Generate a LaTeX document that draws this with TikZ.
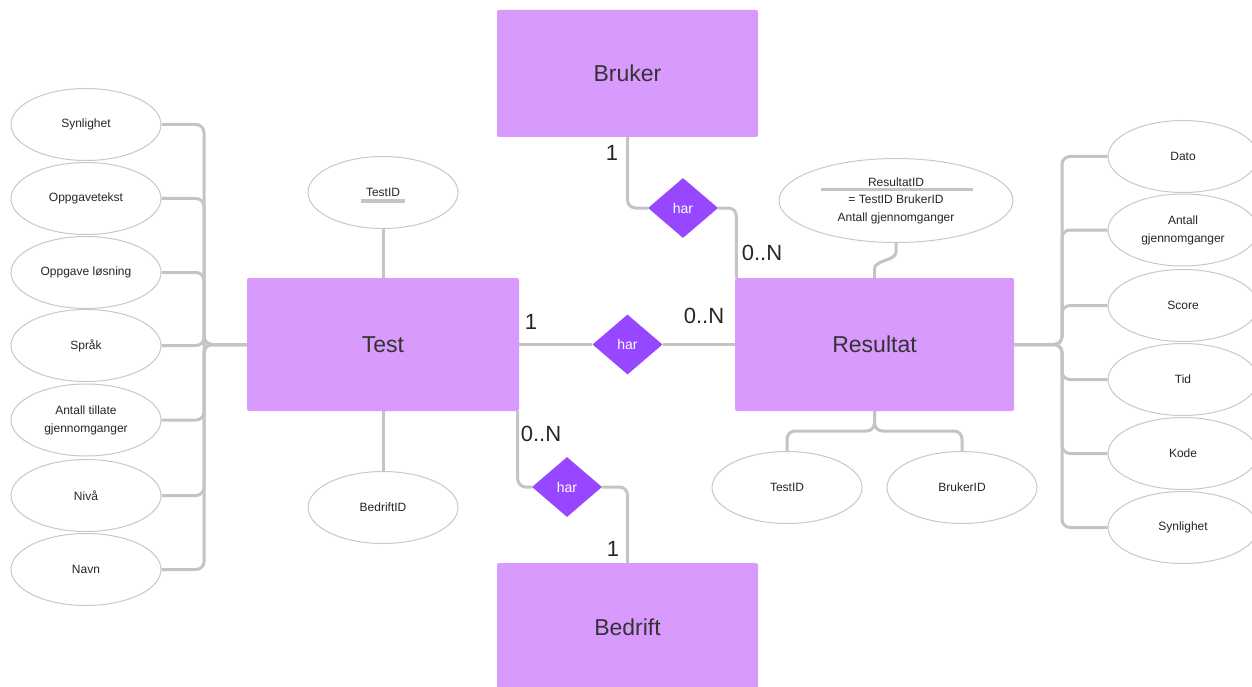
\documentclass[tikz,border=0pt]{standalone}
\usepackage{fontspec}
\setmainfont{Liberation Sans}
\usetikzlibrary{shapes.geometric,calc}
\definecolor{entfill}{RGB}{216,155,253}
\definecolor{relfill}{RGB}{151,71,255}
\definecolor{wire}{RGB}{196,196,196}
\definecolor{ring}{RGB}{200,200,200}
\definecolor{ink}{RGB}{51,51,51}
\begin{document}
\begin{tikzpicture}[x=1pt,y=-1pt,
  entity/.style={rectangle, fill=entfill, rounded corners=2pt, inner sep=0pt,
    text=ink, font=\fontsize{23}{26}\selectfont},
  rel/.style={diamond, fill=relfill, text=white, aspect=1.17, inner sep=0pt,
    minimum width=70pt, minimum height=60pt, font=\fontsize{14}{16}\selectfont},
  attr/.style={ellipse, draw=ring, line width=1pt, fill=white, inner sep=0pt,
    minimum width=150pt, minimum height=72pt, align=center, text=black!85,
    font=\fontsize{12}{18}\selectfont},
  conn/.style={draw=wire, line width=3pt, rounded corners=8pt},
  keybar/.style={draw=wire, line width=3pt},
  card/.style={inner sep=0pt, text=black!85, font=\fontsize{22}{24}\selectfont}]

\useasboundingbox (0,0) rectangle (1252,687);

% entities
\node[entity, minimum width=261pt, minimum height=127pt] (Bruker) at (627.5,73.5) {Bruker};
\node[entity, minimum width=272pt, minimum height=133pt] (Test) at (383,344.5) {Test};
\node[entity, minimum width=279pt, minimum height=133pt] (Resultat) at (874.5,344.5) {Resultat};
\node[entity, minimum width=261pt, minimum height=128pt] (Bedrift) at (627.5,627) {Bedrift};

% relationships
\node[rel] (h1) at (683,208) {har};
\node[rel] (h2) at (627.5,344.5) {har};
\node[rel] (h3) at (567,487) {har};

% attributes of Test
\node[attr] (a1) at (86,124.5) {Synlighet};
\node[attr] (a2) at (86,198.5) {Oppgavetekst};
\node[attr] (a3) at (86,272.5) {Oppgave løsning};
\node[attr] (a4) at (86,345.5) {Språk};
\node[attr] (a5) at (86,420) {Antall tillate\\gjennomganger};
\node[attr] (a6) at (86,495.5) {Nivå};
\node[attr] (a7) at (86,569.5) {Navn};
\node[attr] (tid) at (383,192.5) {TestID};
\draw[keybar] ($(tid.center)+(-22,8.5)$) -- ++(44,0);
\node[attr] (bid) at (383,507.5) {BedriftID};

% attributes of Resultat
\node[attr, minimum width=234pt, minimum height=84pt, font=\fontsize{12}{17.5}\selectfont]
  (rid) at (896,200.5) {ResultatID\\= TestID BrukerID\\Antall gjennomganger};
\draw[keybar] ($(rid.center)+(-75,-10.5)$) -- ++(152,0);
\node[attr] (rtest) at (787,487.5) {TestID};
\node[attr] (rbruk) at (962,487.5) {BrukerID};
\node[attr] (b1) at (1183,156.5) {Dato};
\node[attr] (b2) at (1183,230) {Antall\\gjennomganger};
\node[attr] (b3) at (1183,305.5) {Score};
\node[attr] (b4) at (1183,379.5) {Tid};
\node[attr] (b5) at (1183,453.5) {Kode};
\node[attr] (b6) at (1183,527.5) {Synlighet};

% attribute connectors
\coordinate (lbus) at (204,344.5);
\foreach \n in {a1,a2,a3,a4,a5,a6,a7}
  \draw[conn] (\n.east) -| (lbus) -- (Test.west);
\coordinate (rbus) at (1062,344.5);
\foreach \n in {b1,b2,b3,b4,b5,b6}
  \draw[conn] (Resultat.east) -- (rbus) |- (\n.west);
\coordinate (rsplit) at (874.5,431);
\draw[conn] (Resultat.south) -- (rsplit) -| (rtest.north);
\draw[conn] (Resultat.south) -- (rsplit) -| (rbruk.north);
\draw[draw=wire, line width=3pt] (Resultat.north) -- ++(0,-9)
  .. controls +(0,-9) and +(0,9) .. (896,252) -- (rid.south);
\draw[conn] (tid.south) -- (Test.north);
\draw[conn] (Test.south) -- (bid.north);

% relationship connectors
\draw[conn] (Bruker.south) |- (h1.west);
\draw[conn] (h1.east) -| ($(Resultat.north west)+(1.5,0)$);
\draw[conn] (Test.east) -- (h2.west);
\draw[conn] (h2.east) -- (Resultat.west);
\draw[conn] ($(Test.south east)+(-1.5,0)$) |- (h3.west);
\draw[conn] (h3.east) -| (Bedrift.north);

% cardinalities
\node[card] (c1) at (612,153) {1};
\node[card] (c2) at (762,253) {0..N};
\node[card] (c3) at (531,322) {1};
\node[card] (c4) at (704,316) {0..N};
\node[card] (c5) at (541,434) {0..N};
\node[card] (c6) at (613,549) {1};
\end{tikzpicture}
\end{document}
